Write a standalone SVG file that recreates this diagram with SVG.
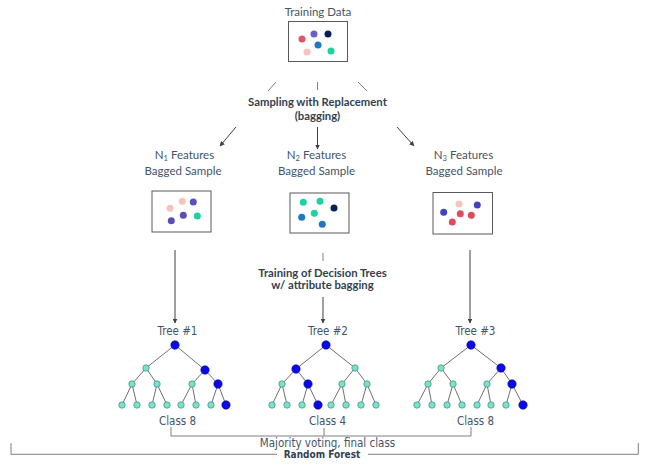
<svg xmlns="http://www.w3.org/2000/svg" width="648" height="468" viewBox="0 0 648 468">
<defs>
<marker id="ah" viewBox="0 0 10 10" refX="9" refY="5" markerWidth="5" markerHeight="5" orient="auto" markerUnits="userSpaceOnUse">
<path d="M0,0 L10,5 L0,10 z" fill="#404040"/>
</marker>
<style>
.lbl{font-family:Lato,"Open Sans","Liberation Sans",sans-serif;font-size:11.5px;fill:#44546a;text-anchor:middle}
.bold{font-family:Lato,"Open Sans","Liberation Sans",sans-serif;font-size:11.3px;font-weight:bold;fill:#333f50;text-anchor:middle}
.tt{font-family:"DejaVu Sans Condensed","DejaVu Sans",sans-serif;font-size:11.5px;fill:#44546a;text-anchor:middle}
.rf{font-family:"DejaVu Sans Condensed","DejaVu Sans",sans-serif;font-size:10px;font-weight:bold;fill:#333f50;text-anchor:middle}
.box{fill:#fff;stroke:#595959;stroke-width:1}
.ln{stroke:#808080;stroke-width:1;fill:none}
.ar{stroke:#404040;stroke-width:1;fill:none;marker-end:url(#ah)}
.br{stroke:#7f7f7f;stroke-width:1;fill:none}
.e{stroke:#707070;stroke-width:1;fill:none}
.t{fill:#7fe0c8;stroke:#3a9c86;stroke-width:0.8}
.b{fill:#0a0ae6;stroke:#0000a0;stroke-width:0.6}
</style>
</defs>

<g id="connectors">
<line class="ln" x1="276" y1="82" x2="268" y2="91"/>
<line class="ln" x1="317.5" y1="82" x2="317.5" y2="90"/>
<line class="ln" x1="358" y1="82" x2="367" y2="91"/>
<line class="ar" x1="236" y1="127" x2="220" y2="146"/>
<line class="ar" x1="317.5" y1="127" x2="317.5" y2="149"/>
<line class="ar" x1="397" y1="127" x2="414" y2="146"/>
<line class="ar" x1="175" y1="250" x2="175" y2="323"/>
<line class="ln" x1="323" y1="253" x2="323" y2="261"/>
<line class="ar" x1="323" y1="297" x2="323" y2="323"/>
<line class="ar" x1="470" y1="250" x2="470" y2="323"/>
<path class="br" d="M171,427 V436 H471 V427 M324,428 V436"/>
<path class="br" d="M11,443 V454.3 H277 M368,454.3 H638.3 V443"/>
</g>

<g id="training-data">
<text class="lbl" x="318" y="15.5">Training Data</text>
<rect class="box" x="288.5" y="21.5" width="59" height="40"/>
<circle cx="302" cy="39" r="3.5" fill="#e05566"/>
<circle cx="314" cy="34" r="3.5" fill="#6a5fc1"/>
<circle cx="328" cy="34" r="3.5" fill="#0b1d55"/>
<circle cx="318" cy="45" r="3.5" fill="#1f78c4"/>
<circle cx="307" cy="52" r="3.5" fill="#f6c3bf"/>
<circle cx="331" cy="51" r="3.5" fill="#1ad3a0"/>
</g>

<g id="sampling-label">
<text class="bold" x="317.5" y="106">Sampling with Replacement</text>
<text class="bold" x="317.5" y="119.5">(bagging)</text>
</g>

<g id="n1">
<text class="lbl" x="184.5" y="158.5">N<tspan font-size="7.5" dy="2">1</tspan><tspan dy="-2"> Features</tspan></text>
<text class="lbl" x="183" y="175">Bagged Sample</text>
<rect class="box" x="152" y="191" width="59" height="41"/>
<circle cx="170" cy="208.3" r="3.5" fill="#f6c3bf"/>
<circle cx="182.3" cy="201.3" r="3.5" fill="#f6c3bf"/>
<circle cx="193.3" cy="202" r="3.5" fill="#5a4fb8"/>
<circle cx="183.3" cy="215.3" r="3.5" fill="#5a4fb8"/>
<circle cx="197.3" cy="216" r="3.5" fill="#1ad3a0"/>
<circle cx="171.3" cy="220.7" r="3.5" fill="#5a4fb8"/>
</g>

<g id="n2">
<text class="lbl" x="316.5" y="159">N<tspan font-size="7.5" dy="2">2</tspan><tspan dy="-2"> Features</tspan></text>
<text class="lbl" x="316.5" y="175">Bagged Sample</text>
<rect class="box" x="290" y="193" width="59" height="40"/>
<circle cx="303.3" cy="202.3" r="3.5" fill="#1ad3a0"/>
<circle cx="320" cy="201.3" r="3.5" fill="#1ad3a0"/>
<circle cx="334" cy="208" r="3.5" fill="#0b1d55"/>
<circle cx="301.7" cy="217.3" r="3.5" fill="#1f78c4"/>
<circle cx="314.3" cy="213.3" r="3.5" fill="#1ad3a0"/>
<circle cx="322.3" cy="224.3" r="3.5" fill="#1f78c4"/>
</g>

<g id="n3">
<text class="lbl" x="463.5" y="158.5">N<tspan font-size="7.5" dy="2">3</tspan><tspan dy="-2"> Features</tspan></text>
<text class="lbl" x="464" y="175">Bagged Sample</text>
<rect class="box" x="433" y="192.5" width="59.5" height="41.5"/>
<circle cx="459" cy="204" r="3.5" fill="#f6c3bf"/>
<circle cx="477.3" cy="205" r="3.5" fill="#4443c0"/>
<circle cx="443.7" cy="212.3" r="3.5" fill="#4443c0"/>
<circle cx="460.3" cy="213.7" r="3.5" fill="#e04a5a"/>
<circle cx="471.3" cy="215.3" r="3.5" fill="#e04a5a"/>
<circle cx="452.3" cy="222" r="3.5" fill="#e04a5a"/>
</g>

<g id="training-label">
<text class="bold" x="322.5" y="276.5">Training of Decision Trees</text>
<text class="bold" x="322.5" y="289">w/ attribute bagging</text>
</g>

<g id="tree1">
<text class="tt" x="177.5" y="335">Tree #1</text>
<path class="e" d="M175,345 L146,368 M175,345 L205,370 M146,368 L132,384 M146,368 L157,384 M205,370 L192,384 M205,370 L218,384 M132,384 L122,405 M132,384 L137,405 M157,384 L152,405 M157,384 L167,405 M192,384 L181,405 M192,384 L196,405 M218,384 L211,405 M218,384 L226,405"/>
<circle class="b" cx="175" cy="345" r="4.2"/>
<circle class="t" cx="146" cy="368" r="3.2"/>
<circle class="b" cx="205" cy="370" r="4.2"/>
<circle class="t" cx="132" cy="384" r="3.2"/>
<circle class="t" cx="157" cy="384" r="3.2"/>
<circle class="t" cx="192" cy="384" r="3.2"/>
<circle class="b" cx="218" cy="384" r="4.2"/>
<circle class="t" cx="122" cy="405" r="3.2"/>
<circle class="t" cx="137" cy="405" r="3.2"/>
<circle class="t" cx="152" cy="405" r="3.2"/>
<circle class="t" cx="167" cy="405" r="3.2"/>
<circle class="t" cx="181" cy="405" r="3.2"/>
<circle class="t" cx="196" cy="405" r="3.2"/>
<circle class="t" cx="211" cy="405" r="3.2"/>
<circle class="b" cx="226" cy="405" r="4.2"/>
<text class="tt" x="177.5" y="425">Class 8</text>
</g>

<g id="tree2">
<text class="tt" x="328" y="335">Tree #2</text>
<path class="e" d="M326,345 L296,369 M326,345 L355,368 M296,369 L282,384 M296,369 L308,384 M355,368 L342,384 M355,368 L367,384 M282,384 L272,405 M282,384 L287,405 M308,384 L302,405 M308,384 L318,405 M342,384 L331,405 M342,384 L346,405 M367,384 L361,405 M367,384 L376,405"/>
<circle class="b" cx="326" cy="345" r="4.2"/>
<circle class="b" cx="296" cy="369" r="4.2"/>
<circle class="t" cx="355" cy="368" r="3.2"/>
<circle class="t" cx="282" cy="384" r="3.2"/>
<circle class="b" cx="308" cy="384" r="4.2"/>
<circle class="t" cx="342" cy="384" r="3.2"/>
<circle class="t" cx="367" cy="384" r="3.2"/>
<circle class="t" cx="272" cy="405" r="3.2"/>
<circle class="t" cx="287" cy="405" r="3.2"/>
<circle class="t" cx="302" cy="405" r="3.2"/>
<circle class="b" cx="318" cy="405" r="4.2"/>
<circle class="t" cx="331" cy="405" r="3.2"/>
<circle class="t" cx="346" cy="405" r="3.2"/>
<circle class="t" cx="361" cy="405" r="3.2"/>
<circle class="t" cx="376" cy="405" r="3.2"/>
<text class="tt" x="327.5" y="425">Class 4</text>
</g>

<g id="tree3">
<text class="tt" x="475.5" y="335">Tree #3</text>
<path class="e" d="M471,345 L441,368 M471,345 L501,368 M441,368 L428,384 M441,368 L453,384 M501,368 L487,384 M501,368 L512,384 M428,384 L417,405 M428,384 L432,405 M453,384 L447,405 M453,384 L462,405 M487,384 L477,405 M487,384 L491,405 M512,384 L506,405 M512,384 L523,405"/>
<circle class="b" cx="471" cy="345" r="4.2"/>
<circle class="t" cx="441" cy="368" r="3.2"/>
<circle class="b" cx="501" cy="368" r="4.2"/>
<circle class="t" cx="428" cy="384" r="3.2"/>
<circle class="t" cx="453" cy="384" r="3.2"/>
<circle class="t" cx="487" cy="384" r="3.2"/>
<circle class="b" cx="512" cy="384" r="4.2"/>
<circle class="t" cx="417" cy="405" r="3.2"/>
<circle class="t" cx="432" cy="405" r="3.2"/>
<circle class="t" cx="447" cy="405" r="3.2"/>
<circle class="t" cx="462" cy="405" r="3.2"/>
<circle class="t" cx="477" cy="405" r="3.2"/>
<circle class="t" cx="491" cy="405" r="3.2"/>
<circle class="t" cx="506" cy="405" r="3.2"/>
<circle class="b" cx="523" cy="405" r="4.2"/>
<text class="tt" x="475.5" y="425">Class 8</text>
</g>

<g id="majority-voting">
<text class="tt" x="327.5" y="446.5">Majority voting, final class</text>
</g>

<g id="random-forest">
<text class="rf" x="322" y="457.5">Random Forest</text>
</g>
</svg>
